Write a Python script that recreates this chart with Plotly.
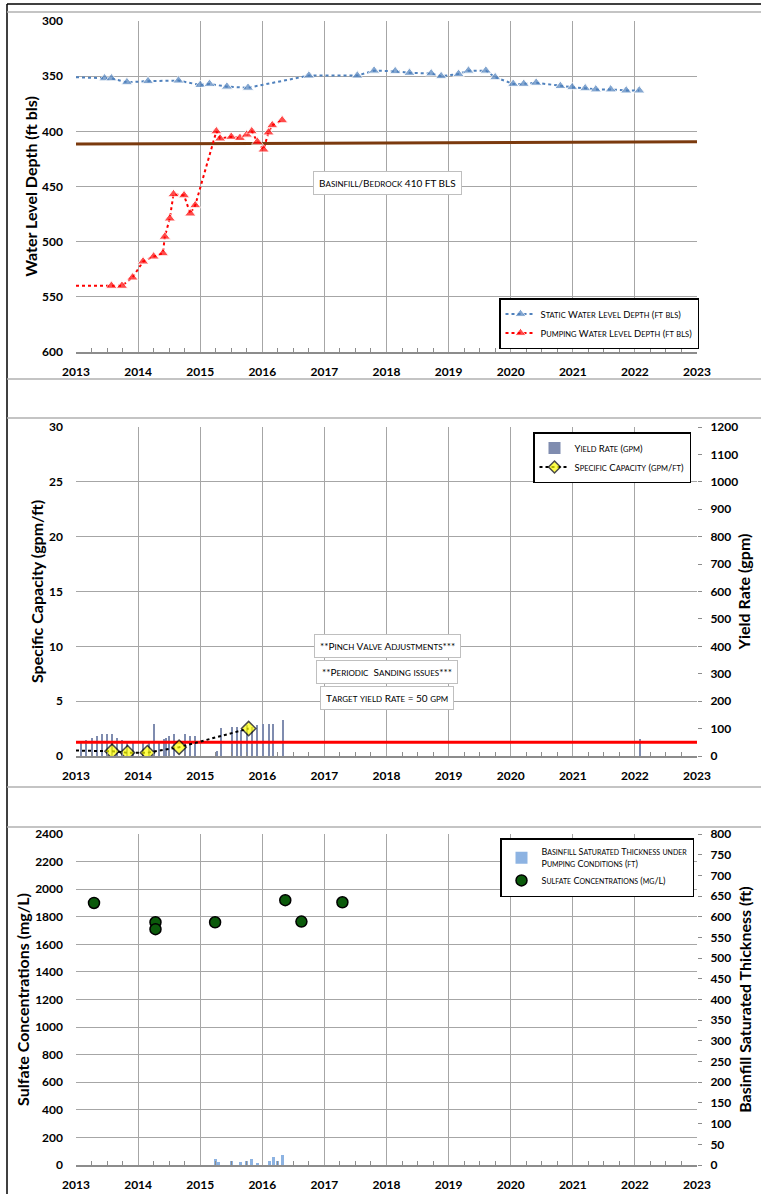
import plotly.graph_objects as go

# ---------------- Data ----------------
STATIC_YEARS = [2013.0, 2013.46, 2013.57, 2013.82, 2014.16, 2014.65, 2015.0, 2015.15, 2015.43, 2015.77,
                2016.75, 2017.53, 2017.8, 2018.14, 2018.37, 2018.72, 2018.88, 2019.16, 2019.32, 2019.6,
                2019.75, 2020.04, 2020.21, 2020.41, 2020.8, 2020.99, 2021.2, 2021.37, 2021.61, 2021.86, 2022.07]
STATIC_DEPTH = [351, 352, 352, 355.5, 354.5, 354, 358, 357, 359.5, 360.5,
                349.5, 349.5, 345, 345.5, 347, 347.5, 350, 348, 345, 345,
                351, 357, 357, 356, 359, 360, 361, 362, 362, 363, 363]

PUMP_YEARS = [2013.0, 2013.57, 2013.74, 2013.91, 2014.08, 2014.25, 2014.40, 2014.43, 2014.51, 2014.57,
              2014.74, 2014.84, 2014.92, 2015.26, 2015.32, 2015.5, 2015.64, 2015.75, 2015.83, 2015.92,
              2016.02, 2016.10, 2016.16, 2016.32]
PUMP_DEPTH = [540, 540, 540, 532.5, 518, 513.5, 510.5, 495.5, 479, 457,
              458, 474.5, 467, 400, 406.5, 405, 406, 403, 400, 409.5,
              416.5, 401, 394.5, 390]

CONTACT_YEARS = [2013, 2023]
CONTACT_DEPTH = [411.5, 409.5]

YIELD_YEARS = [2013.09, 2013.17, 2013.26, 2013.34, 2013.42, 2013.50, 2013.58, 2013.67, 2013.75, 2013.83,
               2013.92, 2014.08, 2014.17, 2014.25, 2014.34, 2014.42, 2014.45, 2014.50, 2014.58, 2014.75,
               2014.84, 2014.92, 2015.27, 2015.33, 2015.52, 2015.60, 2015.66, 2015.75, 2015.83, 2015.91,
               2016.02, 2016.11, 2016.17, 2016.33, 2022.09]
YIELD_GPM = [55, 60, 66, 74, 81, 81, 79, 66, 58, 55,
             52, 52, 55, 115, 52, 63, 66, 74, 81, 79,
             74, 74, 18, 103, 106, 106, 94, 112, 106, 112,
             115, 118, 118, 133, 63]

SC_YEARS = [2013.0, 2013.58, 2013.83, 2014.15, 2014.66, 2015.78]
SC_VALUES = [0.5, 0.43, 0.3, 0.3, 0.8, 2.5]

TARGET_YEARS = [2013, 2023]
TARGET_YIELD = [50, 50]

SULF_YEARS = [2013.29, 2014.28, 2014.28, 2015.24, 2016.37, 2016.63, 2017.29]
SULF_MGL = [1900, 1760, 1710, 1760, 1920, 1765, 1905]

SAT_YEARS = [2015.24, 2015.29, 2015.51, 2015.65, 2015.75, 2015.83, 2015.92, 2016.12, 2016.18, 2016.24, 2016.33]
SAT_FT = [14, 8, 9, 7, 10, 15, 3, 10, 19, 9, 23]

# ---------------- Helpers ----------------
W, H = 761, 1194
FONT = "Lato"


def px(x):
    return x / W


def py(y):
    return 1 - y / H


def sc(text, big=10, small=8):
    """Small caps rendering with HTML spans."""
    out = []
    buf = ""
    for ch in text:
        if ch.islower():
            buf += ch.upper()
        else:
            if buf:
                out.append(f'<span style="font-size:{small}px">{buf}</span>')
                buf = ""
            out.append(ch)
    if buf:
        out.append(f'<span style="font-size:{small}px">{buf}</span>')
    return "".join(out)


GRID = "#A6A6A6"
TICKF = dict(family=FONT, size=12, color="black", weight="bold")
TITLEF = dict(family=FONT, size=16, color="black", weight="bold")

XD = [px(76), px(697)]
DOM_TOP = [py(352), py(21)]
DOM_MID = [py(756), py(427)]
DOM_BOT = [py(1165), py(834)]

fig = go.Figure()

# ---- Top chart ----
fig.add_trace(go.Scatter(x=CONTACT_YEARS, y=CONTACT_DEPTH, mode="lines",
                         line=dict(color="#7B3A0E", width=3), showlegend=False,
                         xaxis="x", yaxis="y", hoverinfo="skip"))
fig.add_trace(go.Scatter(x=STATIC_YEARS, y=STATIC_DEPTH, mode="lines+markers",
                         name=sc("Static Water Level Depth (ft bls)", 9.5, 7.5),
                         line=dict(color="#4F81BD", width=2, dash="dot"),
                         marker=dict(symbol="triangle-up", size=[0] + [10] * (len(STATIC_YEARS) - 1),
                                     color="#4F81BD"),
                         xaxis="x", yaxis="y", legend="legend"))
fig.add_trace(go.Scatter(x=PUMP_YEARS, y=PUMP_DEPTH, mode="lines+markers",
                         name=sc("Pumping Water Level Depth (ft bls)", 9.5, 7.5),
                         line=dict(color="#FF0000", width=2, dash="dot"),
                         marker=dict(symbol="triangle-up", size=[0] + [10] * (len(PUMP_YEARS) - 1),
                                     color="#FF0000"),
                         xaxis="x", yaxis="y", legend="legend"))

# ---- Middle chart ----
fig.add_trace(go.Bar(x=YIELD_YEARS, y=YIELD_GPM, width=0.02, name=sc("Yield Rate (gpm)", 9.5, 7.5),
                     marker=dict(color="#7F8CAF", line=dict(width=0)),
                     xaxis="x2", yaxis="y2", legend="legend2"))
fig.add_trace(go.Scatter(x=TARGET_YEARS, y=TARGET_YIELD, mode="lines",
                         line=dict(color="#FF0000", width=3), showlegend=False,
                         xaxis="x2", yaxis="y2", hoverinfo="skip"))
fig.add_trace(go.Scatter(x=SC_YEARS, y=SC_VALUES, mode="lines+markers",
                         name=sc("Specific Capacity (gpm/ft)", 9.5, 7.5),
                         line=dict(color="black", width=2, dash="dot"),
                         marker=dict(symbol="diamond", size=[0] + [11] * (len(SC_YEARS) - 1),
                                     color="#FFFF00", line=dict(color="black", width=1.5)),
                         xaxis="x2", yaxis="y3", legend="legend2"))

# ---- Bottom chart ----
fig.add_trace(go.Bar(x=SAT_YEARS, y=SAT_FT, width=0.05,
                     name=sc("Basinfill Saturated Thickness under", 9, 7) + "<br>" + sc("Pumping Conditions (ft)", 9, 7),
                     marker=dict(color="#8DB3E2", line=dict(width=0)),
                     xaxis="x3", yaxis="y5", legend="legend3"))
fig.add_trace(go.Scatter(x=SULF_YEARS, y=SULF_MGL, mode="markers",
                         name=sc("Sulfate Concentrations (mg/L)", 9, 7),
                         marker=dict(symbol="circle", size=11, color="#0B5A0B",
                                     line=dict(color="black", width=1.5)),
                         xaxis="x3", yaxis="y4", legend="legend3"))


def xax(anchor):
    return dict(domain=XD, anchor=anchor, range=[2013, 2023], tick0=2013, dtick=1,
                showgrid=True, gridcolor=GRID, gridwidth=1, automargin=False,
                showline=True, linecolor="#8C8C8C", linewidth=2,
                ticks="", tickfont=TICKF, ticklabelstandoff=8, zeroline=False,
                minor=dict(dtick=0.25, tick0=2013, ticks="inside", ticklen=4,
                           tickcolor="#8C8C8C", showgrid=False))


fig.update_layout(
    width=W, height=H,
    margin=dict(l=0, r=0, t=0, b=0, autoexpand=False),
    paper_bgcolor="white", plot_bgcolor="white",
    font=dict(family=FONT, color="black"),
    bargap=0,
    xaxis=xax("y"),
    xaxis2=xax("y2"),
    xaxis3=xax("y4"),
    yaxis=dict(domain=DOM_TOP, anchor="x", range=[600, 300], dtick=50, automargin=False,
               showgrid=True, gridcolor=GRID, zeroline=False, showline=False,
               tickfont=TICKF, ticklabelstandoff=12,
               title=dict(text="Water Level Depth (ft bls)", font=TITLEF, standoff=0)),
    # yield rate axis (base, right side)
    yaxis2=dict(domain=DOM_MID, anchor="x2", side="right", range=[0, 1200], dtick=100, automargin=False,
                showgrid=False, zeroline=False, showline=False,
                ticks="outside", ticklen=4, tickcolor="#8C8C8C",
                tickfont=TICKF, ticklabelstandoff=6,
                title=dict(text="Yield Rate (gpm)", font=TITLEF, standoff=1)),
    # specific capacity axis (overlay, left side)
    yaxis3=dict(overlaying="y2", anchor="x2", side="left", range=[0, 30], dtick=5, automargin=False,
                showgrid=True, gridcolor=GRID, zeroline=False, showline=False,
                tickfont=TICKF, ticklabelstandoff=12,
                title=dict(text="Specific Capacity (gpm/ft)", font=TITLEF, standoff=1)),
    yaxis4=dict(domain=DOM_BOT, anchor="x3", range=[0, 2400], dtick=200, automargin=False,
                showgrid=True, gridcolor=GRID, zeroline=False, showline=False,
                tickfont=TICKF, ticklabelstandoff=12,
                title=dict(text="Sulfate Concentrations (mg/L)", font=TITLEF, standoff=1)),
    yaxis5=dict(overlaying="y4", anchor="x3", side="right", range=[0, 800], dtick=50, automargin=False,
                showgrid=False, zeroline=False, showline=False,
                ticks="outside", ticklen=4, tickcolor="#8C8C8C",
                tickfont=TICKF, ticklabelstandoff=6,
                title=dict(text="Basinfill Saturated Thickness (ft)", font=TITLEF, standoff=9)),
    legend=dict(x=px(499), y=py(298), xanchor="left", yanchor="top",
                bgcolor="white", bordercolor="black", borderwidth=1.5,
                font=dict(family=FONT, size=9.5, color="black")),
    legend2=dict(x=px(533), y=py(432), xanchor="left", yanchor="top",
                 bgcolor="white", bordercolor="black", borderwidth=1.5,
                 font=dict(family=FONT, size=9.5, color="black")),
    legend3=dict(x=px(500), y=py(838), xanchor="left", yanchor="top",
                 bgcolor="white", bordercolor="black", borderwidth=1.5,
                 font=dict(family=FONT, size=9, color="black")),
)

# ---- Panel frame lines ----
shapes = [
    dict(type="line", xref="paper", yref="paper", x0=px(7), x1=px(7), y0=0, y1=py(4),
         line=dict(color="black", width=1.5)),
    dict(type="line", xref="paper", yref="paper", x0=px(7), x1=1, y0=py(4), y1=py(4),
         line=dict(color="black", width=1.5)),
]
for yy in [12, 379, 418, 787, 827]:
    shapes.append(dict(type="line", xref="paper", yref="paper", x0=px(7), x1=1,
                       y0=py(yy), y1=py(yy), line=dict(color="#B0B0B0", width=1.5)))
fig.update_layout(shapes=shapes)

# ---- Annotations ----
ann_style = dict(xref="paper", yref="paper", showarrow=False, bgcolor="white",
                 bordercolor="#BFBFBF", borderwidth=1, borderpad=5,
                 font=dict(family=FONT, size=10, color="black"))
fig.add_annotation(x=px(387.5), y=py(171), text=sc("Basinfill/Bedrock 410 FT BLS"), **ann_style)
fig.add_annotation(x=px(387), y=py(645.5), text=sc("**Pinch Valve Adjustments***"), **ann_style)
fig.add_annotation(x=px(387), y=py(672), text=sc("**Periodic  Sanding issues***"), **ann_style)
fig.add_annotation(x=px(387), y=py(698), text=sc("Target yield Rate = 50 gpm"), **ann_style)

fig.write_html("out.html", config={"displayModeBar": False},
               post_script="document.body.style.margin='0px'; document.body.style.overflow='hidden';")
